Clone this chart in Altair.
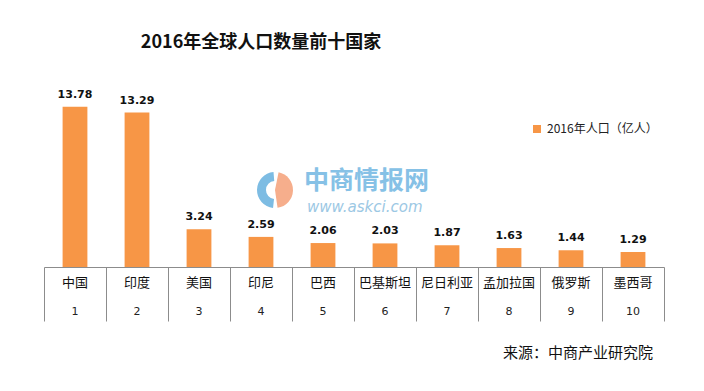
import altair as alt
import pandas as pd

countries = ["中国", "印度", "美国", "印尼", "巴西", "巴基斯坦", "尼日利亚", "孟加拉国", "俄罗斯", "墨西哥"]
ranks = ["1", "2", "3", "4", "5", "6", "7", "8", "9", "10"]
population = [13.78, 13.29, 3.24, 2.59, 2.06, 2.03, 1.87, 1.63, 1.44, 1.29]
series_name = "2016年人口（亿人）"
title_text = "2016年全球人口数量前十国家"
source_text = "来源：中商产业研究院"
wm_name = "中商情报网"
wm_url = "www.askci.com"

df = pd.DataFrame({"country": countries, "rank": ranks, "pop": population,
                   "series": [series_name] * len(countries)})

FONT = "Noto Sans CJK SC"
NUMFONT = "DejaVu Sans"
ORANGE = "#F79646"
W, H = 620, 186

xenc = alt.X("country:N", sort=None,
             scale=alt.Scale(paddingInner=0, paddingOuter=0),
             axis=alt.Axis(title=None, labels=False, domainColor="#8c8c8c",
                           tickColor="#8c8c8c", tickSize=54, tickBand="extent",
                           tickWidth=1, domainWidth=1))
yenc = alt.Y("pop:Q", scale=alt.Scale(domain=[0, 16]), axis=None)

base = alt.Chart(df)

bars = base.mark_bar(width={"band": 0.4}, color=ORANGE).encode(
    x=xenc, y=yenc,
    color=alt.Color("series:N", scale=alt.Scale(range=[ORANGE]),
                    legend=alt.Legend(orient="none", legendX=487, legendY=42,
                                      title=None, symbolType="square",
                                      symbolSize=64, symbolStrokeWidth=0,
                                      labelFont=FONT, labelFontSize=12,
                                      labelColor="#222222")))

values = base.mark_text(baseline="bottom", dy=-7, font=NUMFONT,
                        fontWeight="bold", fontSize=11, color="#111111").encode(
    x=alt.X("country:N", sort=None), y=yenc, text=alt.Text("pop:Q", format=".2f"))

names = base.mark_text(font=FONT, fontSize=13, color="#111111").encode(
    x=alt.X("country:N", sort=None), y=alt.value(H + 16), text="country:N")

rank_lbl = base.mark_text(font=NUMFONT, fontSize=11, color="#222222").encode(
    x=alt.X("country:N", sort=None), y=alt.value(H + 45), text="rank:N")

one = pd.DataFrame({"t": [title_text], "s": [source_text], "a": [wm_name], "b": [wm_url]})
ann = alt.Chart(one)

title = ann.mark_text(font=FONT, fontSize=18, fontWeight="bold", color="#111111").encode(
    x=alt.value(217), y=alt.value(-38), text="t:N")
source = ann.mark_text(font=FONT, fontSize=15, align="right", color="#111111").encode(
    x=alt.value(609), y=alt.value(272), text="s:N")
wm1 = ann.mark_text(font=FONT, fontSize=25, fontWeight="bold", align="left",
                    color="#86C1E6").encode(
    x=alt.value(260), y=alt.value(100), text="a:N")
wm2 = ann.mark_text(font=NUMFONT, fontSize=15, fontStyle="italic", align="left",
                    color="#9CC8E4").encode(
    x=alt.value(263), y=alt.value(126), text="b:N")
logo_blue = ann.mark_arc(color="#7DBCE3", radius=18, radius2=9).encode(
    x=alt.value(231), y=alt.value(109), theta=alt.value(3.25), theta2=alt.value(6.2))
logo_red = ann.mark_arc(color="#F6AE8C", radius=18, radius2=0).encode(
    x=alt.value(231), y=alt.value(109), theta=alt.value(0.2), theta2=alt.value(3.0))

chart = alt.layer(bars, values, names, rank_lbl, title, source,
                  logo_blue, logo_red, wm1, wm2).properties(
    width=W, height=H,
    autosize=alt.AutoSizeParams(type="none"),
    padding={"left": 36, "top": 73, "right": 32, "bottom": 116},
    background="white",
).configure_view(stroke=None)

chart.save("out.html", embed_options={"renderer": "svg", "actions": False})
